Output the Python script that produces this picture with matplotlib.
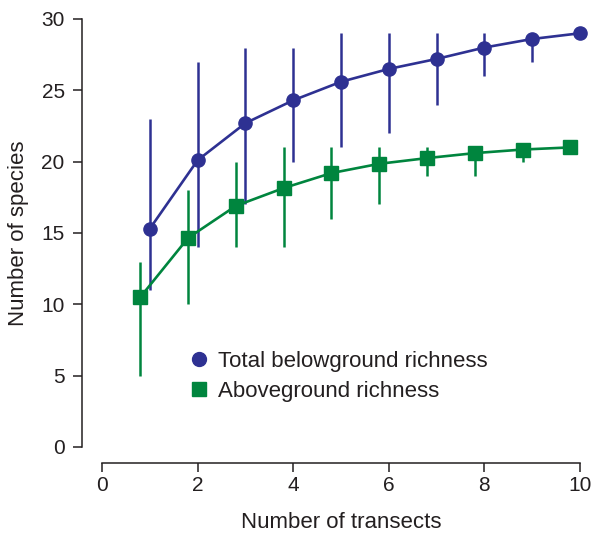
import numpy as np
import matplotlib.pyplot as plt
from matplotlib.lines import Line2D

plt.rcParams['font.family'] = ['Liberation Sans', 'DejaVu Sans']

# Total belowground richness (circles)
x_below = [1, 2, 3, 4, 5, 6, 7, 8, 9, 10]
y_below = [15.3, 20.1, 22.7, 24.3, 25.6, 26.5, 27.2, 28.0, 28.6, 29.0]
lo_below = [11, 14, 17, 20, 21, 22, 24, 26, 27, 29]
hi_below = [23, 27, 28, 28, 29, 29, 29, 29, 29, 29]

# Aboveground richness (squares), plotted slightly offset
x_above = [0.8, 1.8, 2.8, 3.8, 4.8, 5.8, 6.8, 7.8, 8.8, 9.8]
y_above = [10.5, 14.65, 16.9, 18.15, 19.2, 19.85, 20.25, 20.6, 20.85, 21.0]
lo_above = [5, 10, 14, 14, 16, 17, 19, 19, 20, 21]
hi_above = [13, 18, 20, 21, 21, 21, 21, 21, 21, 21]

blue = '#2e3192'
green = '#00853e'
ink = '#231f20'

fig = plt.figure(figsize=(5.95, 5.37), dpi=100)
ax = fig.add_axes([102 / 595, 90 / 537, 478 / 595, 428 / 537])

for x, y, lo, hi, c, m in [
    (x_below, y_below, lo_below, hi_below, blue, 'o'),
    (x_above, y_above, lo_above, hi_above, green, 's'),
]:
    y = np.array(y)
    err = [y - np.array(lo), np.array(hi) - y]
    ax.errorbar(x, y, yerr=err, fmt='none', ecolor=c, elinewidth=1.8,
                capsize=0, clip_on=False)
    ax.plot(x, y, color=c, lw=1.9, marker=m, ms=9.5 if m == 'o' else 9.8,
            mec=c, mfc=c, clip_on=False)

ax.set_xlim(0, 10)
ax.set_ylim(0, 30)
ax.set_xticks([0, 2, 4, 6, 8, 10])
ax.set_yticks([0, 5, 10, 15, 20, 25, 30])

for s in ['top', 'right']:
    ax.spines[s].set_visible(False)
ax.spines['left'].set_position(('outward', 14.4))
ax.spines['bottom'].set_position(('outward', 11.5))
for s in ['left', 'bottom']:
    ax.spines[s].set_linewidth(1.1)
    ax.spines[s].set_color(ink)
ax.tick_params(axis='both', length=6.5, width=1.1, color=ink,
               labelsize=15, labelcolor=ink)
ax.tick_params(axis='x', pad=3)
ax.tick_params(axis='y', pad=6)

ax.set_xlabel('Number of transects', fontsize=16, color=ink)
ax.set_ylabel('Number of species', fontsize=16, color=ink)
ax.xaxis.set_label_coords(0.5, -0.152)
ax.yaxis.set_label_coords(-0.153, 0.5)

handles = [
    Line2D([], [], color=blue, marker='o', ls='none', ms=10),
    Line2D([], [], color=green, marker='s', ls='none', ms=10),
]
ax.legend(handles, ['Total belowground richness', 'Aboveground richness'],
          loc='center left', bbox_to_anchor=(0.184, 0.165), frameon=False,
          fontsize=16, handlelength=0.8, handletextpad=0.46, borderpad=0,
          borderaxespad=0, labelspacing=0.4, labelcolor=ink)

fig.savefig('out.png', dpi=100)
